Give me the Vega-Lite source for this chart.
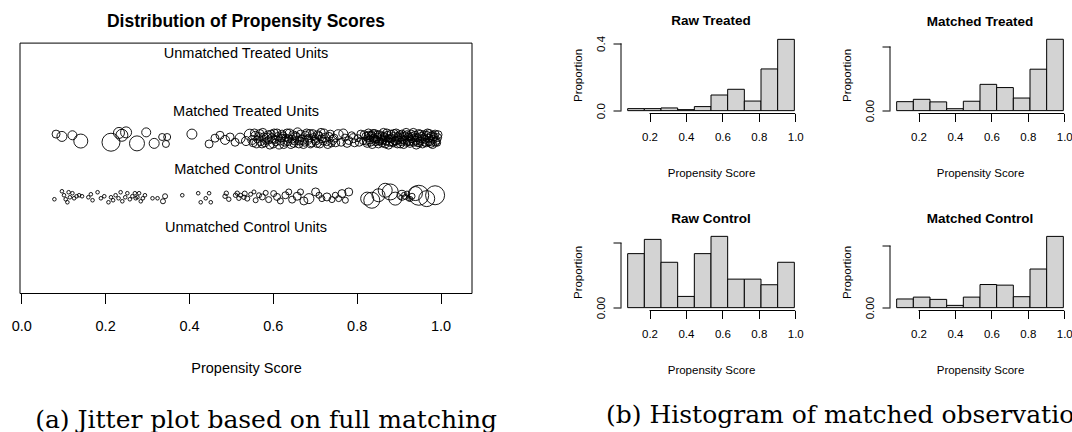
{
  "$schema": "https://vega.github.io/schema/vega-lite/v6.json",
  "padding": {"left": 11, "top": 12.5, "right": 0, "bottom": 0},
  "background": "white",
  "config": {
    "font": "Liberation Sans",
    "view": {"stroke": null},
    "axis": {"labelColor": "black", "titleColor": "black", "tickColor": "black", "domainColor": "black", "grid": false, "labelFont": "Liberation Sans", "titleFont": "Liberation Sans", "titleFontWeight": "normal", "labelOverlap": false},
    "title": {"font": "Liberation Sans", "fontWeight": "bold", "color": "black"}
  },
  "datasets": {
    "pts": [
      {"x":0.083,"y":2.59,"w":4},{"x":0.097,"y":2.55,"w":5},{"x":0.122,"y":2.57,"w":4.5},{"x":0.142,"y":2.47,"w":7},
      {"x":0.214,"y":2.45,"w":9},{"x":0.233,"y":2.61,"w":5.5},{"x":0.240,"y":2.57,"w":6},{"x":0.250,"y":2.62,"w":5.5},
      {"x":0.276,"y":2.43,"w":7.5},{"x":0.298,"y":2.62,"w":4.5},{"x":0.317,"y":2.43,"w":5},{"x":0.336,"y":2.54,"w":3.5},
      {"x":0.345,"y":2.42,"w":3.5},{"x":0.348,"y":2.54,"w":3.5},{"x":0.407,"y":2.59,"w":5},{"x":0.448,"y":2.42,"w":4},
      {"x":0.462,"y":2.52,"w":4},{"x":0.474,"y":2.57,"w":4},{"x":0.486,"y":2.49,"w":4.5},{"x":0.498,"y":2.54,"w":4},
      {"x":0.510,"y":2.45,"w":4},{"x":0.522,"y":2.52,"w":5},{"x":0.536,"y":2.47,"w":4.5},{"x":0.545,"y":2.58,"w":5.5},
      {"x":0.553,"y":2.44,"w":4},{"x":0.558,"y":2.56,"w":4.5},{"x":0.563,"y":2.50,"w":3.5},{"x":0.569,"y":2.60,"w":4},
      {"x":0.574,"y":2.42,"w":4},{"x":0.578,"y":2.53,"w":4.5},{"x":0.584,"y":2.47,"w":3.5},{"x":0.589,"y":2.58,"w":4},
      {"x":0.593,"y":2.40,"w":4},{"x":0.598,"y":2.52,"w":4.5},{"x":0.603,"y":2.61,"w":4},{"x":0.607,"y":2.45,"w":3.5},
      {"x":0.612,"y":2.55,"w":4},{"x":0.617,"y":2.48,"w":4.5},{"x":0.622,"y":2.59,"w":4},{"x":0.626,"y":2.41,"w":4},
      {"x":0.631,"y":2.53,"w":3.5},{"x":0.636,"y":2.46,"w":4},{"x":0.640,"y":2.60,"w":4.5},{"x":0.645,"y":2.50,"w":4},
      {"x":0.650,"y":2.43,"w":4},{"x":0.654,"y":2.56,"w":4},{"x":0.659,"y":2.62,"w":4.5},{"x":0.664,"y":2.47,"w":4},
      {"x":0.668,"y":2.52,"w":3.5},{"x":0.673,"y":2.41,"w":4},{"x":0.678,"y":2.57,"w":4},{"x":0.683,"y":2.49,"w":4.5},
      {"x":0.688,"y":2.60,"w":4},{"x":0.692,"y":2.44,"w":4},{"x":0.697,"y":2.54,"w":3.5},{"x":0.702,"y":2.47,"w":4},
      {"x":0.707,"y":2.58,"w":4},{"x":0.712,"y":2.42,"w":4},{"x":0.717,"y":2.51,"w":4},{"x":0.722,"y":2.60,"w":4.5},
      {"x":0.728,"y":2.46,"w":4},{"x":0.734,"y":2.55,"w":4},{"x":0.740,"y":2.43,"w":3.5},{"x":0.746,"y":2.52,"w":4},
      {"x":0.756,"y":2.58,"w":5},{"x":0.763,"y":2.45,"w":4},{"x":0.772,"y":2.53,"w":3.5},{"x":0.781,"y":2.48,"w":4},
      {"x":0.788,"y":2.57,"w":3.5},{"x":0.795,"y":2.44,"w":4},{"x":0.803,"y":2.52,"w":3.5},{"x":0.810,"y":2.59,"w":4},
      {"x":0.815,"y":2.47,"w":3.5},{"x":0.822,"y":2.55,"w":4},{"x":0.825,"y":2.43,"w":4},{"x":0.828,"y":2.61,"w":4},
      {"x":0.831,"y":2.49,"w":4},{"x":0.834,"y":2.56,"w":4},{"x":0.837,"y":2.41,"w":4},{"x":0.840,"y":2.52,"w":4},
      {"x":0.843,"y":2.60,"w":4},{"x":0.846,"y":2.46,"w":4},{"x":0.849,"y":2.54,"w":4},{"x":0.852,"y":2.42,"w":4},
      {"x":0.855,"y":2.58,"w":4},{"x":0.858,"y":2.50,"w":4},{"x":0.861,"y":2.44,"w":4},{"x":0.864,"y":2.62,"w":4},
      {"x":0.867,"y":2.53,"w":4},{"x":0.870,"y":2.47,"w":4},{"x":0.873,"y":2.57,"w":4},{"x":0.876,"y":2.40,"w":4},
      {"x":0.879,"y":2.51,"w":4},{"x":0.882,"y":2.59,"w":4},{"x":0.885,"y":2.45,"w":4},{"x":0.888,"y":2.55,"w":4},
      {"x":0.891,"y":2.48,"w":4},{"x":0.894,"y":2.61,"w":4},{"x":0.897,"y":2.42,"w":4},{"x":0.900,"y":2.53,"w":4},
      {"x":0.903,"y":2.58,"w":4},{"x":0.906,"y":2.46,"w":4},{"x":0.909,"y":2.50,"w":4},{"x":0.912,"y":2.41,"w":4},
      {"x":0.915,"y":2.56,"w":4},{"x":0.918,"y":2.62,"w":4},{"x":0.921,"y":2.48,"w":4},{"x":0.924,"y":2.54,"w":4},
      {"x":0.927,"y":2.43,"w":4},{"x":0.930,"y":2.59,"w":4},{"x":0.933,"y":2.51,"w":4},{"x":0.936,"y":2.45,"w":4},
      {"x":0.939,"y":2.57,"w":4},{"x":0.942,"y":2.40,"w":4},{"x":0.945,"y":2.53,"w":4},{"x":0.948,"y":2.60,"w":4},
      {"x":0.951,"y":2.47,"w":4},{"x":0.954,"y":2.55,"w":4},{"x":0.957,"y":2.42,"w":4},{"x":0.960,"y":2.58,"w":4},
      {"x":0.963,"y":2.50,"w":4},{"x":0.966,"y":2.44,"w":4},{"x":0.969,"y":2.61,"w":4},{"x":0.972,"y":2.52,"w":4},
      {"x":0.975,"y":2.46,"w":4},{"x":0.978,"y":2.56,"w":4},{"x":0.981,"y":2.41,"w":4},{"x":0.984,"y":2.54,"w":4},
      {"x":0.987,"y":2.59,"w":4},{"x":0.990,"y":2.48,"w":4},{"x":0.993,"y":2.53,"w":4},
      {"x":0.826,"y":2.52,"w":3.5},{"x":0.836,"y":2.58,"w":3.5},{"x":0.847,"y":2.50,"w":3.5},{"x":0.856,"y":2.46,"w":3.5},
      {"x":0.866,"y":2.56,"w":3.5},{"x":0.877,"y":2.52,"w":3.5},{"x":0.887,"y":2.43,"w":3.5},{"x":0.898,"y":2.56,"w":3.5},
      {"x":0.908,"y":2.60,"w":3.5},{"x":0.919,"y":2.44,"w":3.5},{"x":0.929,"y":2.50,"w":3.5},{"x":0.940,"y":2.54,"w":3.5},
      {"x":0.950,"y":2.43,"w":3.5},{"x":0.961,"y":2.54,"w":3.5},{"x":0.971,"y":2.45,"w":3.5},{"x":0.982,"y":2.58,"w":3.5},
      {"x":0.992,"y":2.44,"w":3.5},
      {"x":0.551,"y":2.49,"w":4.5},{"x":0.556,"y":2.61,"w":4},{"x":0.561,"y":2.43,"w":4.5},{"x":0.566,"y":2.55,"w":4},
      {"x":0.571,"y":2.47,"w":4.5},{"x":0.576,"y":2.62,"w":4},{"x":0.581,"y":2.44,"w":4},{"x":0.586,"y":2.53,"w":4.5},
      {"x":0.591,"y":2.49,"w":4},{"x":0.596,"y":2.59,"w":4},{"x":0.601,"y":2.43,"w":4.5},{"x":0.605,"y":2.50,"w":4},
      {"x":0.610,"y":2.61,"w":4},{"x":0.615,"y":2.41,"w":4.5},{"x":0.620,"y":2.52,"w":4},{"x":0.624,"y":2.56,"w":4},
      {"x":0.629,"y":2.46,"w":4.5},{"x":0.634,"y":2.61,"w":4},{"x":0.638,"y":2.51,"w":4},{"x":0.643,"y":2.42,"w":4.5},
      {"x":0.648,"y":2.58,"w":4},{"x":0.652,"y":2.47,"w":4},{"x":0.657,"y":2.53,"w":4.5},{"x":0.662,"y":2.42,"w":4},
      {"x":0.666,"y":2.59,"w":4},{"x":0.671,"y":2.49,"w":4.5},{"x":0.676,"y":2.45,"w":4},{"x":0.681,"y":2.61,"w":4},
      {"x":0.686,"y":2.52,"w":4},{"x":0.690,"y":2.43,"w":4.5},{"x":0.695,"y":2.60,"w":4},{"x":0.700,"y":2.50,"w":4},
      {"x":0.705,"y":2.44,"w":4.5},{"x":0.710,"y":2.56,"w":4},{"x":0.715,"y":2.62,"w":4},{"x":0.720,"y":2.47,"w":4},
      {"x":0.725,"y":2.53,"w":4.5},{"x":0.731,"y":2.41,"w":4},{"x":0.737,"y":2.59,"w":4},{"x":0.743,"y":2.49,"w":4.5},
      {"x":0.750,"y":2.44,"w":4},{"x":0.768,"y":2.60,"w":4.5},{"x":0.777,"y":2.43,"w":4},{"x":0.792,"y":2.52,"w":4.5},
      {"x":0.806,"y":2.45,"w":4},{"x":0.818,"y":2.58,"w":4},
      {"x":0.823,"y":2.47,"w":4},{"x":0.829,"y":2.57,"w":4},{"x":0.833,"y":2.45,"w":4},{"x":0.839,"y":2.60,"w":4},
      {"x":0.844,"y":2.50,"w":4},{"x":0.850,"y":2.58,"w":4},{"x":0.854,"y":2.47,"w":4},{"x":0.859,"y":2.55,"w":4},
      {"x":0.863,"y":2.49,"w":4},{"x":0.868,"y":2.42,"w":4},{"x":0.872,"y":2.61,"w":4},{"x":0.878,"y":2.45,"w":4},
      {"x":0.883,"y":2.52,"w":4},{"x":0.889,"y":2.60,"w":4},{"x":0.893,"y":2.47,"w":4},{"x":0.899,"y":2.49,"w":4},
      {"x":0.904,"y":2.42,"w":4},{"x":0.910,"y":2.55,"w":4},{"x":0.914,"y":2.48,"w":4},{"x":0.920,"y":2.58,"w":4},
      {"x":0.925,"y":2.46,"w":4},{"x":0.931,"y":2.55,"w":4},{"x":0.935,"y":2.62,"w":4},{"x":0.941,"y":2.48,"w":4},
      {"x":0.946,"y":2.44,"w":4},{"x":0.952,"y":2.59,"w":4},{"x":0.956,"y":2.51,"w":4},{"x":0.962,"y":2.45,"w":4},
      {"x":0.967,"y":2.57,"w":4},{"x":0.973,"y":2.60,"w":4},{"x":0.977,"y":2.43,"w":4},{"x":0.983,"y":2.50,"w":4},
      {"x":0.988,"y":2.45,"w":4},{"x":0.994,"y":2.58,"w":4},

      {"x":0.079,"y":1.466,"w":1.8},{"x":0.097,"y":1.604,"w":1.8},{"x":0.102,"y":1.535,"w":1.8},{"x":0.106,"y":1.466,"w":1.8},
      {"x":0.110,"y":1.414,"w":1.8},{"x":0.113,"y":1.587,"w":1.8},{"x":0.116,"y":1.500,"w":1.8},{"x":0.122,"y":1.570,"w":1.8},
      {"x":0.126,"y":1.483,"w":1.8},{"x":0.132,"y":1.518,"w":1.8},{"x":0.138,"y":1.535,"w":1.8},{"x":0.145,"y":1.518,"w":1.8},
      {"x":0.160,"y":1.500,"w":1.8},{"x":0.166,"y":1.552,"w":1.8},{"x":0.170,"y":1.449,"w":1.8},{"x":0.182,"y":1.587,"w":1.8},
      {"x":0.190,"y":1.483,"w":1.8},{"x":0.198,"y":1.518,"w":1.8},{"x":0.208,"y":1.414,"w":1.8},{"x":0.214,"y":1.500,"w":1.8},
      {"x":0.219,"y":1.449,"w":1.8},{"x":0.225,"y":1.535,"w":1.8},{"x":0.232,"y":1.483,"w":1.8},{"x":0.237,"y":1.587,"w":1.8},
      {"x":0.241,"y":1.431,"w":1.8},{"x":0.248,"y":1.500,"w":1.8},{"x":0.253,"y":1.570,"w":1.8},{"x":0.259,"y":1.466,"w":1.8},
      {"x":0.265,"y":1.518,"w":1.8},{"x":0.271,"y":1.570,"w":1.8},{"x":0.273,"y":1.483,"w":1.8},{"x":0.277,"y":1.500,"w":1.8},
      {"x":0.281,"y":1.570,"w":1.8},{"x":0.285,"y":1.431,"w":1.8},{"x":0.290,"y":1.483,"w":1.8},{"x":0.295,"y":1.535,"w":1.8},
      {"x":0.313,"y":1.483,"w":1.8},{"x":0.325,"y":1.483,"w":1.8},{"x":0.338,"y":1.431,"w":2.5},{"x":0.343,"y":1.518,"w":2.5},
      {"x":0.384,"y":1.535,"w":1.8},{"x":0.422,"y":1.570,"w":1.8},{"x":0.428,"y":1.414,"w":1.8},{"x":0.440,"y":1.483,"w":1.8},
      {"x":0.448,"y":1.570,"w":1.8},{"x":0.452,"y":1.414,"w":1.8},{"x":0.486,"y":1.518,"w":2.2},{"x":0.489,"y":1.570,"w":2.2},
      {"x":0.495,"y":1.466,"w":2.2},{"x":0.511,"y":1.535,"w":2.2},{"x":0.515,"y":1.570,"w":2.2},{"x":0.519,"y":1.483,"w":2.2},
      {"x":0.531,"y":1.500,"w":2.2},{"x":0.523,"y":1.535,"w":2},{"x":0.533,"y":1.564,"w":2.5},{"x":0.539,"y":1.477,"w":2.5},
      {"x":0.547,"y":1.552,"w":2},{"x":0.555,"y":1.592,"w":2},{"x":0.559,"y":1.449,"w":2.5},{"x":0.567,"y":1.535,"w":2.5},
      {"x":0.575,"y":1.506,"w":3},{"x":0.583,"y":1.576,"w":2.5},{"x":0.590,"y":1.460,"w":3},{"x":0.602,"y":1.564,"w":3},
      {"x":0.610,"y":1.506,"w":3.5},{"x":0.618,"y":1.437,"w":3},{"x":0.630,"y":1.535,"w":3.5},{"x":0.638,"y":1.592,"w":3},
      {"x":0.646,"y":1.460,"w":3.5},{"x":0.658,"y":1.518,"w":4},{"x":0.666,"y":1.592,"w":3},{"x":0.674,"y":1.437,"w":4},
      {"x":0.686,"y":1.477,"w":5},{"x":0.702,"y":1.592,"w":4},{"x":0.710,"y":1.535,"w":3},{"x":0.717,"y":1.477,"w":3},
      {"x":0.729,"y":1.506,"w":4},{"x":0.741,"y":1.460,"w":3},{"x":0.749,"y":1.535,"w":3},{"x":0.757,"y":1.477,"w":3},
      {"x":0.765,"y":1.564,"w":4},{"x":0.773,"y":1.449,"w":3},{"x":0.781,"y":1.592,"w":4},{"x":0.825,"y":1.477,"w":6.5},
      {"x":0.836,"y":1.449,"w":8},{"x":0.852,"y":1.535,"w":6.5},{"x":0.868,"y":1.621,"w":7},{"x":0.880,"y":1.592,"w":8},
      {"x":0.892,"y":1.477,"w":6.5},{"x":0.908,"y":1.535,"w":5},{"x":0.916,"y":1.506,"w":2.5},{"x":0.920,"y":1.564,"w":2.5},
      {"x":0.924,"y":1.477,"w":2.5},{"x":0.932,"y":1.518,"w":3},{"x":0.940,"y":1.564,"w":7},{"x":0.948,"y":1.535,"w":10},
      {"x":0.967,"y":1.477,"w":8},{"x":0.987,"y":1.535,"w":9.5},{"x":0.905,"y":1.50,"w":2},{"x":0.912,"y":1.55,"w":2},
      {"x":0.928,"y":1.47,"w":2.5}
    ],
    "labels": [
      {"x":0.536,"y":4,"label":"Unmatched Treated Units"},
      {"x":0.536,"y":3,"label":"Matched Treated Units"},
      {"x":0.536,"y":2,"label":"Matched Control Units"},
      {"x":0.536,"y":1,"label":"Unmatched Control Units"}
    ],
    "hist": [
      {"panel":"RT","lo":0.080,"hi":0.1715,"p":0.012},{"panel":"RT","lo":0.1715,"hi":0.263,"p":0.012},{"panel":"RT","lo":0.263,"hi":0.3545,"p":0.016},{"panel":"RT","lo":0.3545,"hi":0.446,"p":0.006},{"panel":"RT","lo":0.446,"hi":0.5375,"p":0.024},{"panel":"RT","lo":0.5375,"hi":0.629,"p":0.093},{"panel":"RT","lo":0.629,"hi":0.7205,"p":0.127},{"panel":"RT","lo":0.7205,"hi":0.812,"p":0.057},{"panel":"RT","lo":0.812,"hi":0.9035,"p":0.248},{"panel":"RT","lo":0.9035,"hi":0.995,"p":0.424},
      {"panel":"MT","lo":0.080,"hi":0.1715,"p":0.042},{"panel":"MT","lo":0.1715,"hi":0.263,"p":0.053},{"panel":"MT","lo":0.263,"hi":0.3545,"p":0.041},{"panel":"MT","lo":0.3545,"hi":0.446,"p":0.009},{"panel":"MT","lo":0.446,"hi":0.5375,"p":0.044},{"panel":"MT","lo":0.5375,"hi":0.629,"p":0.123},{"panel":"MT","lo":0.629,"hi":0.7205,"p":0.108},{"panel":"MT","lo":0.7205,"hi":0.812,"p":0.059},{"panel":"MT","lo":0.812,"hi":0.9035,"p":0.194},{"panel":"MT","lo":0.9035,"hi":0.995,"p":0.334},
      {"panel":"RC","lo":0.080,"hi":0.1715,"p":0.125},{"panel":"RC","lo":0.1715,"hi":0.263,"p":0.158},{"panel":"RC","lo":0.263,"hi":0.3545,"p":0.105},{"panel":"RC","lo":0.3545,"hi":0.446,"p":0.026},{"panel":"RC","lo":0.446,"hi":0.5375,"p":0.125},{"panel":"RC","lo":0.5375,"hi":0.629,"p":0.165},{"panel":"RC","lo":0.629,"hi":0.7205,"p":0.066},{"panel":"RC","lo":0.7205,"hi":0.812,"p":0.066},{"panel":"RC","lo":0.812,"hi":0.9035,"p":0.053},{"panel":"RC","lo":0.9035,"hi":0.995,"p":0.105},
      {"panel":"MC","lo":0.080,"hi":0.1715,"p":0.042},{"panel":"MC","lo":0.1715,"hi":0.263,"p":0.051},{"panel":"MC","lo":0.263,"hi":0.3545,"p":0.040},{"panel":"MC","lo":0.3545,"hi":0.446,"p":0.011},{"panel":"MC","lo":0.446,"hi":0.5375,"p":0.051},{"panel":"MC","lo":0.5375,"hi":0.629,"p":0.112},{"panel":"MC","lo":0.629,"hi":0.7205,"p":0.109},{"panel":"MC","lo":0.7205,"hi":0.812,"p":0.053},{"panel":"MC","lo":0.812,"hi":0.9035,"p":0.187},{"panel":"MC","lo":0.9035,"hi":0.995,"p":0.345}
    ]
  },
  "spacing": 74,
  "hconcat": [
    {
      "title": {"text": "(a) Jitter plot based on full matching", "orient": "bottom", "anchor": "start", "font": "DejaVu Serif", "fontSize": 25, "fontWeight": "normal", "offset": 33, "dx": 24},
      "vconcat": [
        {
          "width": 452, "height": 257,
          "title": {"text": "Distribution of Propensity Scores", "fontSize": 17.5, "offset": 6.4},
          "layer": [
            {
              "data": {"name": "pts"},
              "mark": {"type": "point", "filled": false, "color": "black", "strokeWidth": 0.9, "opacity": 1},
              "encoding": {
                "x": {"field": "x", "type": "quantitative", "scale": {"domain": [-0.003, 1.075], "nice": false, "zero": false},
                  "axis": {"values": [0, 0.2, 0.4, 0.6, 0.8, 1.0], "format": ".1f", "title": "Propensity Score", "domain": false, "tickSize": 10, "labelPadding": 16, "titlePadding": 28, "labelFontSize": 14.5, "titleFontSize": 14.5, "labelFlush": false}},
                "y": {"field": "y", "type": "quantitative", "scale": {"domain": [-0.16, 4.274], "nice": false, "zero": false}, "axis": null},
                "size": {"field": "w", "type": "quantitative", "scale": {"type": "pow", "exponent": 2, "domain": [0, 10], "range": [0, 400]}, "legend": null}
              }
            },
            {
              "data": {"name": "labels"},
              "mark": {"type": "text", "fontSize": 14.5, "color": "black", "baseline": "middle", "align": "center", "dy": 2},
              "encoding": {
                "x": {"field": "x", "type": "quantitative"},
                "y": {"field": "y", "type": "quantitative"},
                "text": {"field": "label"}
              }
            },
            {"data": {"values": [{}]}, "mark": {"type": "rule", "color": "black"}, "encoding": {"x": {"datum": -0.003}, "x2": {"datum": 1.075}, "y": {"datum": 4.16}}},
            {"data": {"values": [{}]}, "mark": {"type": "rule", "color": "black"}, "encoding": {"x": {"datum": -0.003}, "x2": {"datum": 1.075}, "y": {"datum": -0.16}}},
            {"data": {"values": [{}]}, "mark": {"type": "rule", "color": "black"}, "encoding": {"x": {"datum": -0.003}, "y": {"datum": -0.16}, "y2": {"datum": 4.16}}},
            {"data": {"values": [{}]}, "mark": {"type": "rule", "color": "black"}, "encoding": {"x": {"datum": 1.075}, "y": {"datum": -0.16}, "y2": {"datum": 4.16}}}
          ]
        }
      ]
    },
    {
      "title": {"text": "(b) Histogram of matched observatio", "orient": "bottom", "anchor": "start", "font": "DejaVu Serif", "fontSize": 25, "fontWeight": "normal", "offset": 27, "dx": 34},
      "spacing": 33,
      "vconcat": [
        {
          "spacing": 37,
          "hconcat": [
            {
              "width": 180, "height": 77,
              "title": {"text": "Raw Treated", "fontSize": 13.5, "offset": 8},
              "layer": [
                {
                  "data": {"name": "hist"},
                  "transform": [{"filter": "datum.panel == 'RT'"}],
                  "mark": {"type": "bar", "fill": "#D3D3D3", "stroke": "black", "strokeWidth": 1},
                  "encoding": {
                    "x": {"field": "lo", "type": "quantitative", "scale": {"domain": [0.0434, 1.0316], "nice": false, "zero": false},
                      "axis": {"values": [0.2, 0.4, 0.6, 0.8, 1.0], "format": ".1f", "title": "Propensity Score", "domain": false, "tickSize": 8, "labelPadding": 10, "titlePadding": 24, "labelFontSize": 11.5, "titleFontSize": 11.5, "labelFlush": false}},
                    "x2": {"field": "hi"},
                    "y": {"field": "p", "type": "quantitative", "scale": {"domain": [-0.017, 0.441], "nice": false, "zero": false},
                      "axis": {"values": [0, 0.1, 0.2, 0.3, 0.4], "labelExpr": "datum.value == 0 || datum.value == 0.2 || datum.value == 0.4 ? format(datum.value, '.1f') : ''", "title": "Proportion", "domain": false, "tickSize": 8, "labelAngle": -90, "labelAlign": "center", "labelBaseline": "bottom", "labelPadding": 7, "titlePadding": 12, "labelFontSize": 11.5, "titleFontSize": 11.5}},
                    "y2": {"datum": 0}
                  }
                },
                {"data": {"values": [{}]}, "mark": {"type": "rule", "color": "black"}, "encoding": {"x": {"datum": 0.2}, "x2": {"datum": 1.0}, "y": {"datum": -0.017}}},
                {"data": {"values": [{}]}, "mark": {"type": "rule", "color": "black"}, "encoding": {"x": {"datum": 0.0434}, "y": {"datum": 0}, "y2": {"datum": 0.4}}}
              ]
            },
            {
              "width": 180, "height": 77,
              "title": {"text": "Matched Treated", "fontSize": 13.5, "offset": 8},
              "layer": [
                {
                  "data": {"name": "hist"},
                  "transform": [{"filter": "datum.panel == 'MT'"}],
                  "mark": {"type": "bar", "fill": "#D3D3D3", "stroke": "black", "strokeWidth": 1},
                  "encoding": {
                    "x": {"field": "lo", "type": "quantitative", "scale": {"domain": [0.0434, 1.0316], "nice": false, "zero": false},
                      "axis": {"values": [0.2, 0.4, 0.6, 0.8, 1.0], "format": ".1f", "title": "Propensity Score", "domain": false, "tickSize": 8, "labelPadding": 10, "titlePadding": 24, "labelFontSize": 11.5, "titleFontSize": 11.5, "labelFlush": false}},
                    "x2": {"field": "hi"},
                    "y": {"field": "p", "type": "quantitative", "scale": {"domain": [-0.0134, 0.347], "nice": false, "zero": false},
                      "axis": {"values": [0, 0.05, 0.1, 0.15, 0.2, 0.25, 0.3], "labelExpr": "datum.value == 0 || datum.value == 0.2 ? format(datum.value, '.2f') : ''", "title": "Proportion", "domain": false, "tickSize": 8, "labelAngle": -90, "labelAlign": "center", "labelBaseline": "bottom", "labelPadding": 7, "titlePadding": 12, "labelFontSize": 11.5, "titleFontSize": 11.5}},
                    "y2": {"datum": 0}
                  }
                },
                {"data": {"values": [{}]}, "mark": {"type": "rule", "color": "black"}, "encoding": {"x": {"datum": 0.2}, "x2": {"datum": 1.0}, "y": {"datum": -0.0134}}},
                {"data": {"values": [{}]}, "mark": {"type": "rule", "color": "black"}, "encoding": {"x": {"datum": 0.0434}, "y": {"datum": 0}, "y2": {"datum": 0.3}}}
              ]
            }
          ]
        },
        {
          "spacing": 37,
          "hconcat": [
            {
              "width": 180, "height": 77,
              "title": {"text": "Raw Control", "fontSize": 13.5, "offset": 8},
              "layer": [
                {
                  "data": {"name": "hist"},
                  "transform": [{"filter": "datum.panel == 'RC'"}],
                  "mark": {"type": "bar", "fill": "#D3D3D3", "stroke": "black", "strokeWidth": 1},
                  "encoding": {
                    "x": {"field": "lo", "type": "quantitative", "scale": {"domain": [0.0434, 1.0316], "nice": false, "zero": false},
                      "axis": {"values": [0.2, 0.4, 0.6, 0.8, 1.0], "format": ".1f", "title": "Propensity Score", "domain": false, "tickSize": 8, "labelPadding": 10, "titlePadding": 24, "labelFontSize": 11.5, "titleFontSize": 11.5, "labelFlush": false}},
                    "x2": {"field": "hi"},
                    "y": {"field": "p", "type": "quantitative", "scale": {"domain": [-0.0066, 0.1716], "nice": false, "zero": false},
                      "axis": {"values": [0, 0.05, 0.1, 0.15], "labelExpr": "datum.value == 0 || datum.value == 0.1 ? format(datum.value, '.2f') : ''", "title": "Proportion", "domain": false, "tickSize": 8, "labelAngle": -90, "labelAlign": "center", "labelBaseline": "bottom", "labelPadding": 7, "titlePadding": 12, "labelFontSize": 11.5, "titleFontSize": 11.5}},
                    "y2": {"datum": 0}
                  }
                },
                {"data": {"values": [{}]}, "mark": {"type": "rule", "color": "black"}, "encoding": {"x": {"datum": 0.2}, "x2": {"datum": 1.0}, "y": {"datum": -0.0066}}},
                {"data": {"values": [{}]}, "mark": {"type": "rule", "color": "black"}, "encoding": {"x": {"datum": 0.0434}, "y": {"datum": 0}, "y2": {"datum": 0.15}}}
              ]
            },
            {
              "width": 180, "height": 77,
              "title": {"text": "Matched Control", "fontSize": 13.5, "offset": 8},
              "layer": [
                {
                  "data": {"name": "hist"},
                  "transform": [{"filter": "datum.panel == 'MC'"}],
                  "mark": {"type": "bar", "fill": "#D3D3D3", "stroke": "black", "strokeWidth": 1},
                  "encoding": {
                    "x": {"field": "lo", "type": "quantitative", "scale": {"domain": [0.0434, 1.0316], "nice": false, "zero": false},
                      "axis": {"values": [0.2, 0.4, 0.6, 0.8, 1.0], "format": ".1f", "title": "Propensity Score", "domain": false, "tickSize": 8, "labelPadding": 10, "titlePadding": 24, "labelFontSize": 11.5, "titleFontSize": 11.5, "labelFlush": false}},
                    "x2": {"field": "hi"},
                    "y": {"field": "p", "type": "quantitative", "scale": {"domain": [-0.0138, 0.359], "nice": false, "zero": false},
                      "axis": {"values": [0, 0.05, 0.1, 0.15, 0.2, 0.25, 0.3], "labelExpr": "datum.value == 0 || datum.value == 0.2 ? format(datum.value, '.2f') : ''", "title": "Proportion", "domain": false, "tickSize": 8, "labelAngle": -90, "labelAlign": "center", "labelBaseline": "bottom", "labelPadding": 7, "titlePadding": 12, "labelFontSize": 11.5, "titleFontSize": 11.5}},
                    "y2": {"datum": 0}
                  }
                },
                {"data": {"values": [{}]}, "mark": {"type": "rule", "color": "black"}, "encoding": {"x": {"datum": 0.2}, "x2": {"datum": 1.0}, "y": {"datum": -0.0138}}},
                {"data": {"values": [{}]}, "mark": {"type": "rule", "color": "black"}, "encoding": {"x": {"datum": 0.0434}, "y": {"datum": 0}, "y2": {"datum": 0.3}}}
              ]
            }
          ]
        }
      ]
    }
  ]
}
